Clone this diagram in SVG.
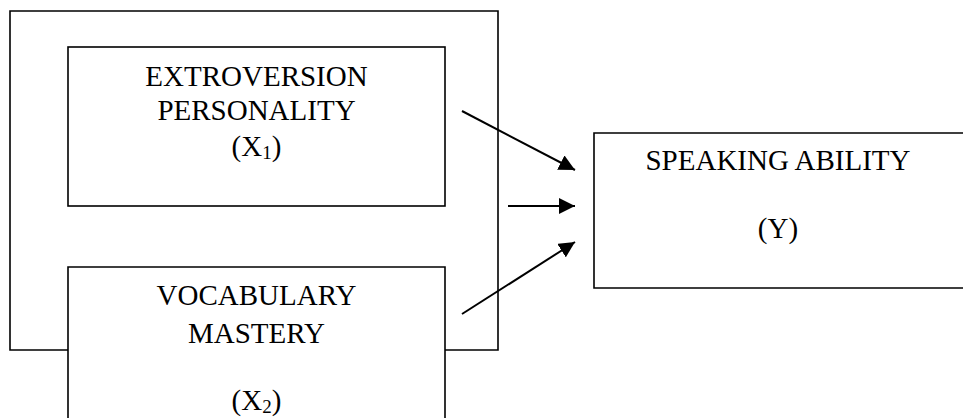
<svg xmlns="http://www.w3.org/2000/svg" width="963" height="418" viewBox="0 0 963 418">
<style>
.box{fill:none;stroke:#000;stroke-width:1.6}
.t{font-family:"Liberation Serif","Times New Roman",serif;font-size:29px;fill:#000;text-anchor:middle}
.sub{font-size:19px}
.c{stroke:#000;stroke-width:2;fill:none}
</style>
<defs>
<marker id="ah" markerWidth="16" markerHeight="16" viewBox="0 0 16 16" refX="16" refY="8" orient="auto" markerUnits="userSpaceOnUse">
<path d="M0,0 L16,8 L0,16 Z" fill="#000"/>
</marker>
</defs>
<rect width="963" height="418" fill="#fff"/>
<g id="outer">
<path class="box" d="M68,350 L10,350 L10,11 L498,11 L498,350 L445,350"/>
</g>
<g id="x1">
<rect class="box" x="68" y="47" width="377" height="159"/>
<text class="t" x="256.5" y="86">EXTROVERSION</text>
<text class="t" x="256.5" y="120">PERSONALITY</text>
<text class="t" x="256.5" y="156">(X<tspan class="sub" dy="3">1</tspan><tspan dy="-3">)</tspan></text>
</g>
<g id="x2">
<path class="box" d="M68,430 L68,267 L445,267 L445,430"/>
<text class="t" x="256.5" y="305">VOCABULARY</text>
<text class="t" x="256.5" y="343">MASTERY</text>
<text class="t" x="256.5" y="410">(X<tspan class="sub" dy="3">2</tspan><tspan dy="-3">)</tspan></text>
</g>
<g id="y">
<path class="box" d="M975,133 L594,133 L594,288 L975,288"/>
<text class="t" x="778" y="170">SPEAKING ABILITY</text>
<text class="t" x="778" y="238">(Y)</text>
</g>
<g id="connectors">
<line class="c" x1="462" y1="111" x2="575" y2="170" marker-end="url(#ah)"/>
<line class="c" x1="508" y1="206" x2="575" y2="206" marker-end="url(#ah)"/>
<line class="c" x1="462" y1="314" x2="575" y2="242" marker-end="url(#ah)"/>
</g>
</svg>
